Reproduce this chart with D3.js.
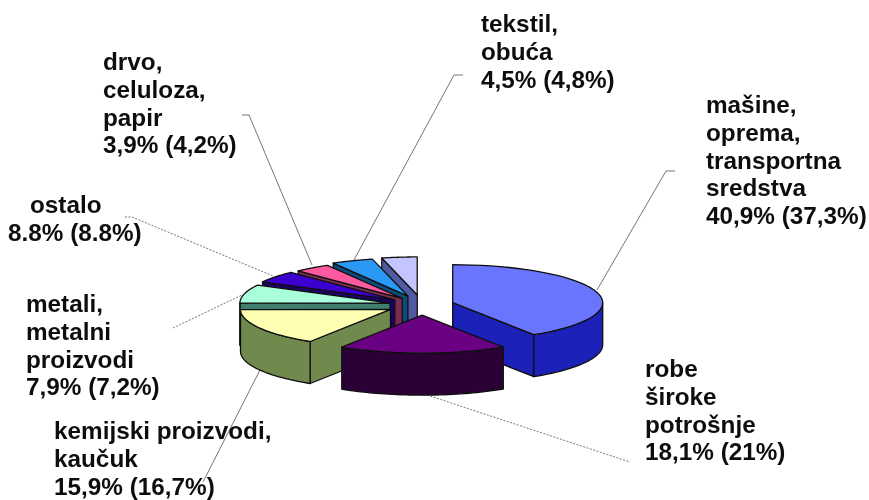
<!DOCTYPE html>
<html><head><meta charset="utf-8">
<script src="https://cdn.jsdelivr.net/npm/d3@7/dist/d3.min.js"></script>
<style>html,body{margin:0;background:#fff}svg{display:block}
text{font-family:"Liberation Sans",Arial,sans-serif;font-weight:bold;font-size:24.3px;fill:#111}</style>
</head><body><script>
const sliceNames = ["mašine","robe","kemijski","metali","ostalo","drvo","tekstil","ostalo2"];
const sliceValues = [40.9,18.1,15.9,7.9,5.0,3.9,4.5,3.8];
const topColors = ["#6b75fd","#6a0082","#ffffb4","#a8ffd9","#3a00d0","#ff5aa0","#2a98f5","#c4c4ff"];
const sideColors = ["#1a20b8","#2a0636","#6f8a4e","#3f7f70","#1c0068","#7a2d50","#0f4c7a","#4f5aa0"];
const explode = [32,40,36,33,34,33,38,40];
const labels = [
 {x:706,y:113,lines:["mašine,","oprema,","transportna","sredstva","40,9% (37,3%)"]},
 {x:645,y:377,lines:["robe","široke","potrošnje","18,1% (21%)"]},
 {x:54,y:439,lines:["kemijski proizvodi,","kaučuk","15,9% (16,7%)"]},
 {x:26,y:312,lines:["metali,","metalni","proizvodi","7,9% (7,2%)"]},
 {x:30,y:213,lines:["ostalo"]},
 {x:8,y:241,lines:["8.8% (8.8%)"]},
 {x:103,y:70,lines:["drvo,","celuloza,","papir","3,9% (4,2%)"]},
 {x:481,y:32,lines:["tekstil,","obuća","4,5% (4,8%)"]}
];
const leaders = [
 {pts:[[675,171],[666,171],[597,290]],dash:null},
 {pts:[[427,395],[630,462]],dash:"2,1.5"},
 {pts:[[260,370],[203,482]],dash:null},
 {pts:[[173,328],[242,295]],dash:"2,1.5"},
 {pts:[[125,217],[132,217],[273,276]],dash:"2,1.5"},
 {pts:[[242,115],[249,115],[312,265]],dash:null},
 {pts:[[463,75],[454,75],[354,260]],dash:null}
];
const W=869,H=500,cx=422,cy=305,rx=150,ry=38,depth=42;
const svg=d3.select("body").append("svg").attr("width",W).attr("height",H);
svg.append("defs").append("filter").attr("id","soft").append("feGaussianBlur").attr("stdDeviation",0.45);
const root=svg.append("g").attr("filter","url(#soft)");
const pie=d3.pie().sort(null)(sliceValues);
const line=d3.line();
const gLead=root.append("g");
leaders.forEach(l=>gLead.append("path").attr("d",line(l.pts)).attr("fill","none")
  .attr("stroke","#666").attr("stroke-width",0.9).attr("stroke-dasharray",l.dash));
const order=[0,7,6,5,4,3,2,1];
const gPie=root.append("g").attr("stroke","#111").attr("stroke-width",1.3).attr("stroke-linejoin","round");
order.forEach(i=>{
  const p=pie[i],mid=(p.startAngle+p.endAngle)/2,e=explode[i];
  const ax=cx+e*Math.sin(mid),ay=cy-e*Math.cos(mid)*ry/rx;
  const pt=a=>[ax+rx*Math.sin(a),ay-ry*Math.cos(a)];
  const arc=(a0,a1)=>d3.range(0,41).map(k=>pt(a0+(a1-a0)*k/40));
  const down=q=>[q[0],q[1]+depth];
  const side=sideColors[i];
  if(Math.sin(p.startAngle)<0){const r=pt(p.startAngle);
    gPie.append("path").attr("d",line([[ax,ay],r,down(r),[ax,ay+depth]])+"Z").attr("fill",side);}
  if(Math.sin(p.endAngle)>0){const r=pt(p.endAngle);
    gPie.append("path").attr("d",line([[ax,ay],r,down(r),[ax,ay+depth]])+"Z").attr("fill",side);}
  const w0=Math.max(p.startAngle,Math.PI/2),w1=Math.min(p.endAngle,3*Math.PI/2);
  if(w1>w0){const t=arc(w0,w1);
    gPie.append("path").attr("d",line(t.concat(t.map(down).reverse()))+"Z").attr("fill",side);}
  gPie.append("path").attr("d",line([[ax,ay]].concat(arc(p.startAngle,p.endAngle)))+"Z").attr("fill",topColors[i]);
});
const gText=root.append("g");
labels.forEach(l=>l.lines.forEach((s,k)=>gText.append("text").attr("x",l.x).attr("y",l.y+k*27.8).text(s)));
</script></body></html>
